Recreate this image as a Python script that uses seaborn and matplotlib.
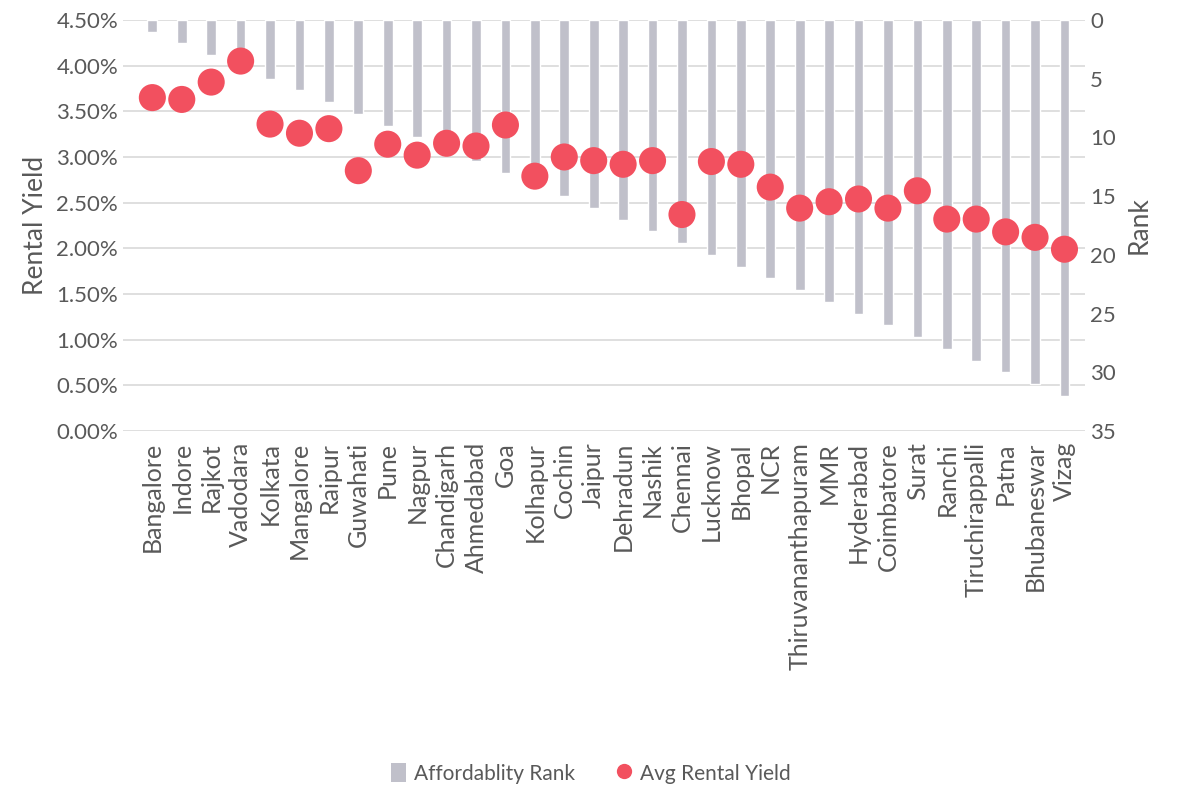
import matplotlib
matplotlib.use("Agg")
import matplotlib.pyplot as plt
from matplotlib.ticker import FuncFormatter
from matplotlib.lines import Line2D
from matplotlib.patches import Patch
import seaborn as sns
import pandas as pd

cities = ["Bangalore", "Indore", "Rajkot", "Vadodara", "Kolkata", "Mangalore", "Raipur",
          "Guwahati", "Pune", "Nagpur", "Chandigarh", "Ahmedabad", "Goa", "Kolhapur",
          "Cochin", "Jaipur", "Dehradun", "Nashik", "Chennai", "Lucknow", "Bhopal", "NCR",
          "Thiruvananthapuram", "MMR", "Hyderabad", "Coimbatore", "Surat", "Ranchi",
          "Tiruchirappalli", "Patna", "Bhubaneswar", "Vizag"]
affordability_rank = list(range(1, 33))
rental_yield = [3.65, 3.63, 3.82, 4.05, 3.36, 3.26, 3.31, 2.85, 3.14, 3.02, 3.15, 3.12,
                3.35, 2.79, 3.00, 2.96, 2.92, 2.96, 2.37, 2.95, 2.92, 2.67, 2.44, 2.51,
                2.54, 2.44, 2.63, 2.32, 2.32, 2.18, 2.12, 1.99]

df = pd.DataFrame({"city": cities, "rank": affordability_rank, "yield": rental_yield})

sns.set_theme(style="white")
plt.rcParams["font.family"] = ["Lato", "DejaVu Sans"]
text_color = "#595959"
bar_color = "#C0C0CA"
dot_color = "#F2505F"

fig = plt.figure(figsize=(11.82, 7.99), dpi=100)
ax = fig.add_axes([0.104, 0.4606, 0.814, 0.5144])
ax2 = ax.twinx()

# rank bars hang from the top on the inverted right axis
sns.barplot(data=df, x="city", y="rank", ax=ax2, color=bar_color, width=0.33,
            saturation=1)
ax2.set_ylim(35, 0)
ax2.set_yticks(range(0, 36, 5))
ax2.set_ylabel("Rank", fontsize=19, color=text_color, labelpad=8)

# yield dots on the left axis, drawn above the bars
sns.scatterplot(data=df, x="city", y="yield", ax=ax, color=dot_color, s=380,
                edgecolor="none", zorder=5)
ax.set_zorder(ax2.get_zorder() + 1)
ax.patch.set_visible(False)
ax.set_ylim(0, 4.5)
ax.set_yticks([i * 0.5 for i in range(10)])
ax.yaxis.set_major_formatter(FuncFormatter(lambda v, p: f"{v:.2f}%"))
ax.set_ylabel("Rental Yield", fontsize=19, color=text_color, labelpad=6)
ax.set_xlabel("")
ax2.set_xlabel("")
ax.set_xlim(-1.0, 31.7)

ax2.grid(False)
for v in [i * 0.5 for i in range(10)]:
    ax2.axhline(v / 4.5 * 35, color="#D9D9D9", lw=1.2, zorder=0)

for a in (ax, ax2):
    for s in a.spines.values():
        s.set_visible(False)
    a.tick_params(axis="both", length=0, labelsize=16, colors=text_color)

ax.set_xticks(range(len(cities)))
ax.set_xticklabels(cities, rotation=90, fontsize=18, color=text_color)
ax.tick_params(axis="x", pad=8)

handles = [Patch(facecolor=bar_color, edgecolor="none", label="Affordablity Rank"),
           Line2D([0], [0], marker="o", color="none", markerfacecolor=dot_color,
                  markeredgecolor="none", markersize=11, label="Avg Rental Yield")]
leg = fig.legend(handles=handles, loc="center", bbox_to_anchor=(0.5, 0.032), ncol=2,
                 frameon=False, fontsize=15, handlelength=0.7, handleheight=1.0,
                 columnspacing=2.0, handletextpad=0.4)
for t in leg.get_texts():
    t.set_color(text_color)

fig.savefig("out.png", dpi=100)
